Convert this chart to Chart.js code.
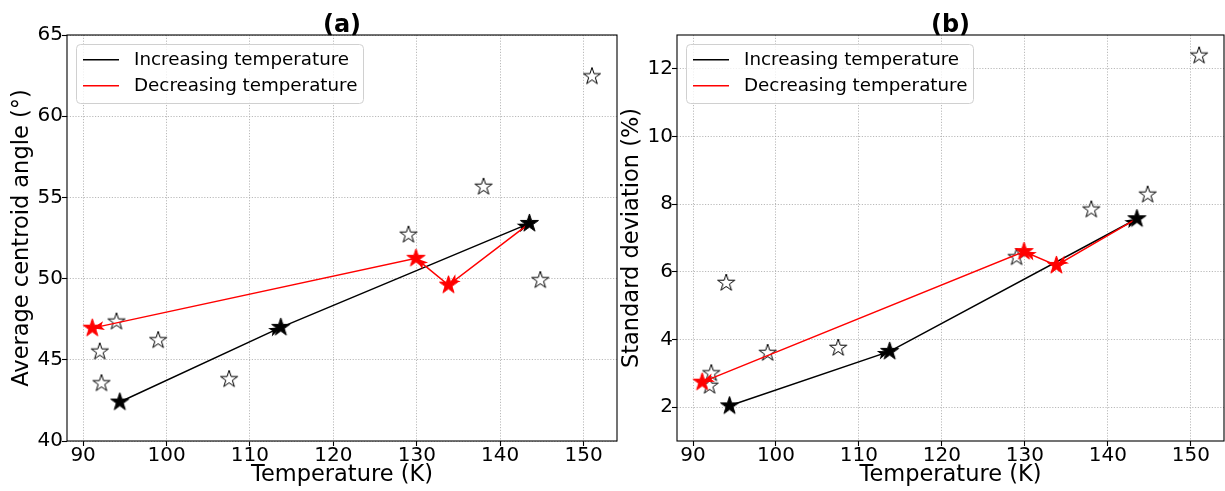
<!DOCTYPE html>
<html>
<head>
<meta charset="utf-8">
<script src="https://cdn.jsdelivr.net/npm/chart.js@4.4.1/dist/chart.umd.min.js"></script>
<style>
  body { margin: 0; background: #fff; }
  #wrap { position: relative; width: 1225px; height: 491px; overflow: hidden; }
  .panel { position: absolute; top: 0; }
</style>
</head>
<body>
<div id="wrap">
  <canvas id="chartA" class="panel" style="left:0" width="622" height="491"></canvas>
  <canvas id="chartB" class="panel" style="left:610px" width="615" height="491"></canvas>
</div>
<script>
// data
const hollowTemp  = [92.0, 92.2, 94.0, 99.0, 107.5, 129.0, 138.0, 144.8, 151.0];
const hollowAngle = [45.5, 43.55, 47.35, 46.2, 43.8, 52.7, 55.65, 49.9, 62.45];
const hollowStd   = [2.63, 3.0, 5.67, 3.6, 3.75, 6.43, 7.84, 8.28, 12.39];

const upTemp  = [94.4, 113.7, 143.5];
const upAngle = [42.4, 47.0, 53.4];
const upStd   = [2.04, 3.65, 7.57];

const downTemp  = [143.5, 133.8, 129.9, 91.1];
const downAngle = [53.4, 49.6, 51.25, 46.95];
const downStd   = [7.57, 6.19, 6.6, 2.74];

const legendLabels = ['Increasing temperature', 'Decreasing temperature'];
const legendColors = ['#000000', '#ff0000'];
const tempTicks  = [90, 100, 110, 120, 130, 140, 150];
const angleTicks = [40, 45, 50, 55, 60, 65];
const stdTicks   = [2, 4, 6, 8, 10, 12];

const FONT = "'DejaVu Sans', sans-serif";

function pts(xs, ys) {
  return xs.map((x, i) => ({x: x, y: ys[i]}));
}

// star marker images (Chart.js has no filled star)
function starImage(fill, stroke, r) {
  const size = Math.ceil(r * 2 + 4);
  const c = document.createElement('canvas');
  c.width = size; c.height = size;
  const g = c.getContext('2d');
  g.translate(size / 2, size / 2);
  g.beginPath();
  for (let i = 0; i < 10; i++) {
    const rad = i % 2 === 0 ? r : r * 0.382;
    const a = -Math.PI / 2 + i * Math.PI / 5;
    g.lineTo(rad * Math.cos(a), rad * Math.sin(a));
  }
  g.closePath();
  g.fillStyle = fill;
  g.fill();
  g.lineWidth = 1;
  g.strokeStyle = stroke;
  g.stroke();
  return c;
}

const hollowStar = starImage('#ffffff', '#000000', 9);
const blackStar = starImage('#000000', '#000000', 9.5);
const redStar = starImage('#ff0000', '#ff0000', 9.5);

// arrow heads at the end of each segment
const arrowPlugin = {
  id: 'arrowHeads',
  afterDatasetDraw(chart, args) {
    const ds = chart.data.datasets[args.index];
    if (!ds.arrowHeads) return;
    const ctx = chart.ctx;
    const pts = args.meta.data;
    ctx.save();
    ctx.fillStyle = ds.borderColor;
    for (let i = 1; i < pts.length; i++) {
      const p0 = pts[i - 1], p1 = pts[i];
      const ang = Math.atan2(p1.y - p0.y, p1.x - p0.x);
      ctx.save();
      ctx.translate(p1.x, p1.y);
      ctx.rotate(ang);
      ctx.beginPath();
      ctx.moveTo(0, 0);
      ctx.lineTo(-12, -4.5);
      ctx.lineTo(-9, 0);
      ctx.lineTo(-12, 4.5);
      ctx.closePath();
      ctx.fill();
      ctx.restore();
    }
    ctx.restore();
  }
};

// frame, legend box and panel title
const decoPlugin = {
  id: 'deco',
  afterDraw(chart, args, opts) {
    const ctx = chart.ctx;
    const a = chart.chartArea;
    ctx.save();
    ctx.strokeStyle = '#000';
    ctx.lineWidth = 1.1;
    ctx.strokeRect(a.left, a.top, a.right - a.left, a.bottom - a.top);

    // legend
    const bx = a.left + 9, by = a.top + 9, bw = 287, bh = 59;
    ctx.beginPath();
    ctx.roundRect(bx + 0.5, by + 0.5, bw, bh, 4);
    ctx.fillStyle = 'rgba(255,255,255,0.8)';
    ctx.fill();
    ctx.strokeStyle = '#d0d0d0';
    ctx.lineWidth = 1;
    ctx.stroke();
    ctx.font = '18.3px ' + FONT;
    ctx.textBaseline = 'middle';
    ctx.textAlign = 'left';
    legendLabels.forEach((lab, i) => {
      const y = a.top + 24.7 + i * 26;
      ctx.strokeStyle = legendColors[i];
      ctx.lineWidth = 1.5;
      ctx.beginPath();
      ctx.moveTo(a.left + 16, y);
      ctx.lineTo(a.left + 52, y);
      ctx.stroke();
      ctx.fillStyle = '#000';
      ctx.fillText(lab, a.left + 67, y + 1);
    });

    // title
    ctx.font = 'bold 24px ' + FONT;
    ctx.textAlign = 'center';
    ctx.textBaseline = 'alphabetic';
    ctx.fillStyle = '#000';
    ctx.fillText(opts.title, (a.left + a.right) / 2, 31.5);
    ctx.restore();
  }
};

function makeChart(id, title, yLabel, hollowY, upY, downY, yMin, yMax, yTicks, rightPad) {
  return new Chart(document.getElementById(id), {
    type: 'scatter',
    data: {
      datasets: [
        {
          data: pts(hollowTemp, hollowY),
          pointStyle: hollowStar,
          pointRadius: 8,
          order: 5
        },
        {
          data: pts(upTemp, upY),
          showLine: true,
          borderColor: '#000000',
          borderWidth: 1.5,
          pointRadius: 0,
          arrowHeads: true,
          order: 4
        },
        {
          data: pts(downTemp, downY),
          showLine: true,
          borderColor: '#ff0000',
          borderWidth: 1.5,
          pointRadius: 0,
          arrowHeads: true,
          order: 3
        },
        {
          data: pts(downTemp.slice(1), downY.slice(1)),
          pointStyle: redStar,
          pointRadius: 8,
          order: 2
        },
        {
          data: pts(upTemp, upY),
          pointStyle: blackStar,
          pointRadius: 8,
          order: 1
        }
      ]
    },
    options: {
      responsive: false,
      animation: false,
      events: [],
      layout: { autoPadding: false, padding: { left: 0, right: rightPad, top: 35, bottom: 0 } },
      plugins: {
        legend: { display: false },
        tooltip: { enabled: false },
        deco: { title: title }
      },
      scales: {
        x: {
          type: 'linear',
          min: 88.07,
          max: 154.0,
          afterBuildTicks: s => { s.ticks = tempTicks.map(v => ({value: v})); },
          afterFit: s => { s.height = 50; s.paddingLeft = 0; s.paddingRight = 0; },
          ticks: { color: '#000', font: { family: FONT, size: 20 }, padding: -2, maxRotation: 0 },
          grid: { color: '#a8a8a8', lineWidth: 0.8, tickColor: '#000', tickLength: 5, tickWidth: 1.1, tickBorderDash: [] },
          border: { display: false, dash: [1.2, 1.6] },
          title: { display: true, text: 'Temperature (K)', color: '#000', font: { family: FONT, size: 22.5 }, padding: { top: 0, bottom: 2 } }
        },
        y: {
          type: 'linear',
          min: yMin,
          max: yMax,
          afterBuildTicks: s => { s.ticks = yTicks.map(v => ({value: v})); },
          afterFit: s => { s.width = 67; s.paddingTop = 0; s.paddingBottom = 0; },
          ticks: { color: '#000', font: { family: FONT, size: 20 }, padding: -1 },
          grid: { color: '#a8a8a8', lineWidth: 0.8, tickColor: '#000', tickLength: 5, tickWidth: 1.1, tickBorderDash: [] },
          border: { display: false, dash: [1.2, 1.6] },
          title: { display: true, text: yLabel, color: '#000', font: { family: FONT, size: 22.5 }, padding: { top: 8.5, bottom: 0 } }
        }
      }
    },
    plugins: [arrowPlugin, decoPlugin]
  });
}

makeChart('chartA', '(a)', 'Average centroid angle (°)', hollowAngle, upAngle, downAngle, 40, 65, angleTicks, 5);
makeChart('chartB', '(b)', 'Standard deviation (%)', hollowStd, upStd, downStd, 1, 13, stdTicks, 1);
</script>
</body>
</html>
